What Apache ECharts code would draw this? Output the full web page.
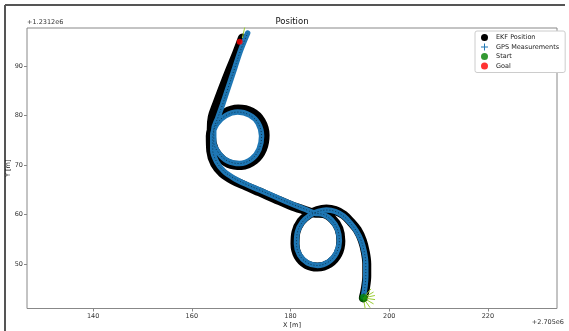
<!DOCTYPE html>
<html>
<head>
<meta charset="utf-8">
<script src="https://cdn.jsdelivr.net/npm/echarts@6/dist/echarts.min.js"></script>
<style>html,body{margin:0;padding:0;background:#fff}#c{width:569px;height:331px}</style>
</head>
<body>
<div id="c"></div>
<script>
// ---- data (offsets: x + 2.705e6, y + 1.2312e6) ----
const xTicks = [140, 160, 180, 200, 220];
const yTicks = [50, 60, 70, 80, 90];
const xRange = [126.6, 234.0];
const yRange = [41.0, 97.7];

const ekfX = [194.75,195.15,195.45,195.45,195.15,194.55,193.54,192.22,190.81,189.09,187.27,185.45,183.74,
  182.12,181.11,180.91,181.52,183.23,185.45,187.88,189.60,190.20,189.80,188.48,186.67,184.75,182.73,
  179.80,176.77,173.74,170.91,168.28,166.16,164.65,163.84,
  163.74,164.65,166.67,169.39,172.12,174.04,174.85,174.34,172.73,170.10,167.47,165.35,164.14,163.94,164.14,
  165.05,166.26,167.68,169.09,170.24];
const ekfY = [43.13,44.95,47.58,50.00,52.42,54.75,56.87,58.48,59.90,60.81,61.11,60.81,60.00,
  58.59,56.46,54.04,51.62,49.90,49.39,50.10,52.02,54.65,57.17,59.09,60.20,60.30,60.91,
  61.92,63.23,64.55,65.76,66.97,68.38,70.20,72.83,
  75.86,78.59,80.51,81.31,80.71,78.89,76.06,73.23,71.01,69.90,70.30,71.92,74.44,77.27,79.70,
  82.32,85.56,89.19,92.63,95.66];

const gpsX = [194.75,195.05,195.25,195.25,194.95,194.34,193.33,192.12,190.71,189.09,187.27,185.66,184.04,
  182.42,181.41,181.21,181.82,183.43,185.45,187.68,189.29,189.90,189.49,188.28,186.67,184.85,182.83,
  179.80,176.77,173.74,170.91,168.48,166.46,165.05,164.24,
  164.24,165.05,166.87,169.29,171.72,173.43,174.14,173.64,172.12,169.70,167.27,165.45,164.44,164.44,165.25,
  166.26,167.47,168.69,169.90,171.31];
const gpsY = [43.33,45.15,47.58,50.00,52.42,54.65,56.67,58.28,59.70,60.61,60.91,60.61,59.90,
  58.48,56.46,54.04,51.82,50.20,49.70,50.40,52.22,54.65,57.07,58.89,60.00,60.30,61.11,
  62.32,63.64,64.95,66.16,67.37,68.79,70.61,73.03,
  75.86,78.28,80.00,80.71,80.10,78.48,75.86,73.23,71.21,70.30,70.81,72.42,74.65,77.07,79.49,
  82.32,85.96,89.60,93.23,96.67];

const startPt = [194.75, 43.13];
const goalPt = [169.70, 94.91];
// heading rays (end points) drawn from the start and from the last EKF position
const startRayEnds = [[196.30,44.97],[196.83,44.33],[197.10,43.63],[197.13,42.80],[196.83,41.93],[196.13,41.16],[195.17,40.77]];
const endRayFrom = [170.24, 95.66];
const endRayEnds = [[170.75, 97.95]];

const legendNames = ['EKF Position', 'GPS Measurements', 'Start', 'Goal'];
const offsetY = '+1.2312e6';
const offsetX = '+2.705e6';

// ---- chart ----
const FONT = 'DejaVu Sans';
const zip = (a, b) => a.map((v, i) => [v, b[i]]);
const chart = echarts.init(document.getElementById('c'), null, {renderer: 'canvas'});

const rays = startRayEnds.map(e => ({coords: [startPt, e]}))
  .concat(endRayEnds.map(e => ({coords: [endRayFrom, e]})));

chart.setOption({
  animation: false,
  backgroundColor: '#fff',
  textStyle: {fontFamily: FONT},
  grid: {left: 27, right: 12, top: 28, bottom: 22.5, outerBoundsMode: 'none', containLabel: false,
    show: true, borderColor: '#888', borderWidth: 1, backgroundColor: 'transparent'},
  xAxis: {
    type: 'value', min: xRange[0], max: xRange[1],
    name: 'X [m]', nameLocation: 'middle', nameGap: 13, nameMoveOverlap: false,
    nameTextStyle: {fontSize: 6.5, color: '#222', fontFamily: FONT},
    axisLine: {show: false},
    splitLine: {show: false},
    axisTick: {show: true, length: 3, lineStyle: {color: '#888'}, customValues: xTicks},
    axisLabel: {fontSize: 6.5, color: '#333', margin: 4, fontFamily: FONT, customValues: xTicks}
  },
  yAxis: {
    type: 'value', min: yRange[0], max: yRange[1],
    name: 'Y [m]', nameLocation: 'middle', nameGap: 15, nameRotate: 90, nameMoveOverlap: false,
    nameTextStyle: {fontSize: 6.5, color: '#222', fontFamily: FONT},
    axisLine: {show: false},
    splitLine: {show: false},
    axisTick: {show: true, length: 3, lineStyle: {color: '#888'}, customValues: yTicks},
    axisLabel: {fontSize: 6.5, color: '#333', margin: 4, fontFamily: FONT, customValues: yTicks}
  },
  legend: {
    orient: 'vertical', left: 475, top: 31,
    padding: [3, 6, 3, 6], itemGap: 2.5, itemWidth: 7, itemHeight: 7,
    borderColor: '#ccc', borderWidth: 1, borderRadius: 2, backgroundColor: '#fff',
    textStyle: {fontSize: 6.5, color: '#222', fontFamily: FONT, padding: [0, 0, 0, 3]},
    data: [
      {name: legendNames[0], icon: 'circle', itemStyle: {color: '#000'}},
      {name: legendNames[1], icon: 'path://M4.3,0H5.7V4.3H10V5.7H5.7V10H4.3V5.7H0V4.3H4.3Z', itemStyle: {color: '#1f77b4'}},
      {name: legendNames[2], icon: 'circle', itemStyle: {color: '#008000'}},
      {name: legendNames[3], icon: 'circle', itemStyle: {color: '#ff0000'}}
    ]
  },
  graphic: [
    {type: 'line', shape: {x1: 5, y1: 5, x2: 565, y2: 5}, style: {stroke: '#555', lineWidth: 2}, silent: true},
    {type: 'line', shape: {x1: 5, y1: 5, x2: 5, y2: 331}, style: {stroke: '#555', lineWidth: 2}, silent: true},
    {type: 'text', x: 292, y: 17, style: {text: 'Position', fontSize: 8.5, fill: '#111', fontFamily: FONT, textAlign: 'center'}},
    {type: 'text', x: 27, y: 19, style: {text: offsetY, fontSize: 6.5, fill: '#333', fontFamily: FONT, textAlign: 'left'}},
    {type: 'text', x: 564, y: 319, style: {text: offsetX, fontSize: 6.5, fill: '#333', fontFamily: FONT, textAlign: 'right'}}
  ],
  series: [
    {
      name: legendNames[0], type: 'line', data: zip(ekfX, ekfY), symbol: 'none', smooth: 0.35, z: 2,
      itemStyle: {color: '#000'},
      lineStyle: {color: '#000', width: 9, cap: 'round', join: 'round'}
    },
    {
      name: legendNames[1], type: 'line', data: zip(gpsX, gpsY), symbol: 'none', smooth: 0.35, z: 3,
      itemStyle: {color: '#1f77b4'},
      lineStyle: {color: '#1f77b4', width: 5.5, cap: 'round', join: 'round'}
    },
    {
      name: 'gps-texture', type: 'line', data: zip(gpsX, gpsY), symbol: 'none', smooth: 0.35, z: 4, silent: true,
      lineStyle: {color: 'rgba(0,0,0,0.55)', width: 1, type: [1, 2]}
    },
    {
      name: 'heading', type: 'lines', coordinateSystem: 'cartesian2d', z: 5, silent: true, clip: true,
      lineStyle: {color: '#9acd32', width: 1, opacity: 1},
      data: rays
    },
    {
      name: legendNames[2], type: 'scatter', data: [startPt], symbol: 'circle', symbolSize: 8, z: 6,
      itemStyle: {color: '#008000'}
    },
    {
      name: legendNames[3], type: 'scatter', data: [goalPt], symbol: 'circle', symbolSize: 6, z: 6,
      itemStyle: {color: '#ff0000'}
    }
  ]
});
</script>
</body>
</html>
